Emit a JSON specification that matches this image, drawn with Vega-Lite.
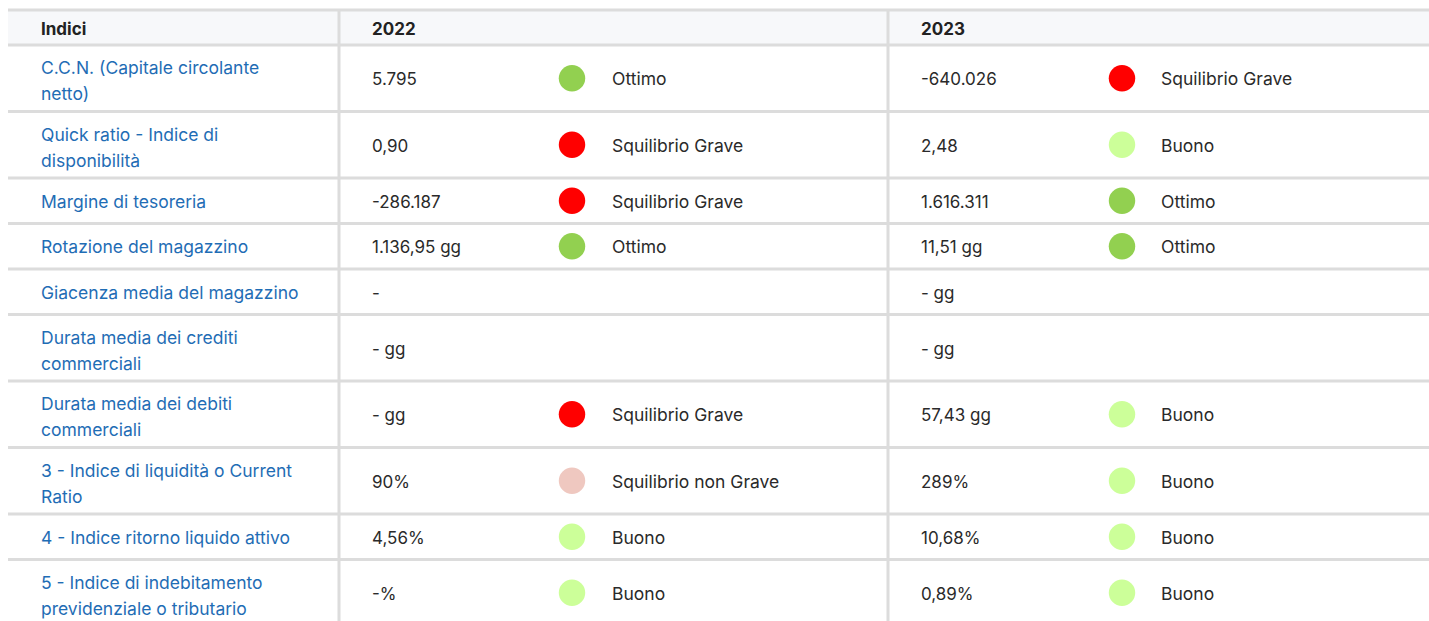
{
  "$schema": "https://vega.github.io/schema/vega-lite/v6.json",
  "width": 1429,
  "height": 621,
  "padding": 0,
  "autosize": {"type": "none"},
  "background": "#ffffff",
  "config": {
    "view": {"stroke": null},
    "axis": {"disable": true},
    "text": {"font": "Inter", "fontSize": 17, "align": "left", "baseline": "middle", "color": "#2a2a2a", "dy": 2}
  },
  "datasets": {
    "header": [
      {"col": "Indici", "label": "Indici"},
      {"col": "2022", "label": "2022"},
      {"col": "2023", "label": "2023"}
    ],
    "rows": [
      {"indice": ["C.C.N. (Capitale circolante", "netto)"], "v2022": "5.795", "s2022": "Ottimo", "v2023": "-640.026", "s2023": "Squilibrio Grave"},
      {"indice": ["Quick ratio - Indice di", "disponibilità"], "v2022": "0,90", "s2022": "Squilibrio Grave", "v2023": "2,48", "s2023": "Buono"},
      {"indice": ["Margine di tesoreria"], "v2022": "-286.187", "s2022": "Squilibrio Grave", "v2023": "1.616.311", "s2023": "Ottimo"},
      {"indice": ["Rotazione del magazzino"], "v2022": "1.136,95 gg", "s2022": "Ottimo", "v2023": "11,51 gg", "s2023": "Ottimo"},
      {"indice": ["Giacenza media del magazzino"], "v2022": "-", "s2022": null, "v2023": "- gg", "s2023": null},
      {"indice": ["Durata media dei crediti", "commerciali"], "v2022": "- gg", "s2022": null, "v2023": "- gg", "s2023": null},
      {"indice": ["Durata media dei debiti", "commerciali"], "v2022": "- gg", "s2022": "Squilibrio Grave", "v2023": "57,43 gg", "s2023": "Buono"},
      {"indice": ["3 - Indice di liquidità o Current", "Ratio"], "v2022": "90%", "s2022": "Squilibrio non Grave", "v2023": "289%", "s2023": "Buono"},
      {"indice": ["4 - Indice ritorno liquido attivo"], "v2022": "4,56%", "s2022": "Buono", "v2023": "10,68%", "s2023": "Buono"},
      {"indice": ["5 - Indice di indebitamento", "previdenziale o tributario"], "v2022": "-%", "s2022": "Buono", "v2023": "0,89%", "s2023": "Buono"}
    ]
  },
  "resolve": {"scale": {"x": "shared", "y": "shared"}},
  "layer": [
    {
      "data": {"name": "header"},
      "transform": [{"filter": "datum.col === 'Indici'"}],
      "mark": {"type": "rect", "fill": "#f7f8fa"},
      "encoding": {
        "x": {"datum": 8, "type": "quantitative", "scale": {"domain": [0, 1429], "nice": false, "zero": false}},
        "x2": {"datum": 1429},
        "y": {"datum": 10, "type": "quantitative", "scale": {"domain": [0, 621], "nice": false, "zero": false, "reverse": true}},
        "y2": {"datum": 45}
      }
    },
    {
      "data": {"name": "header"},
      "transform": [{"filter": "datum.col === 'Indici'"}],
      "mark": {"type": "rule", "stroke": "#dcdcdc", "strokeWidth": 3},
      "encoding": {"x": {"datum": 8, "type": "quantitative"}, "x2": {"datum": 1429}, "y": {"datum": 10, "type": "quantitative"}}
    },
    {
      "data": {"name": "header"},
      "transform": [{"filter": "datum.col === 'Indici'"}],
      "mark": {"type": "rule", "stroke": "#dcdcdc", "strokeWidth": 3},
      "encoding": {"x": {"datum": 8, "type": "quantitative"}, "x2": {"datum": 1429}, "y": {"datum": 45, "type": "quantitative"}}
    },
    {
      "data": {"name": "header"},
      "transform": [{"filter": "datum.col !== 'Indici'"}, {"calculate": "datum.col === '2022' ? 339 : 888", "as": "sep"}],
      "mark": {"type": "rule", "stroke": "#dcdcdc", "strokeWidth": 3},
      "encoding": {"x": {"field": "sep", "type": "quantitative"}, "y": {"datum": 10, "type": "quantitative"}, "y2": {"datum": 630}}
    },
    {
      "data": {"name": "rows"},
      "transform": [
        {"calculate": "length(datum.indice)", "as": "nl"},
        {"calculate": "24.5 + 21 * datum.nl", "as": "h"},
        {"window": [{"op": "sum", "field": "h", "as": "cum"}], "frame": [null, 0]},
        {"calculate": "45 + datum.cum", "as": "y1"},
        {"calculate": "datum.y1 - datum.h / 2", "as": "ym"},
        {"calculate": "datum.ym - (datum.nl - 1) * 11", "as": "ly"}
      ],
      "layer": [
        {
          "mark": {"type": "rule", "stroke": "#dcdcdc", "strokeWidth": 3},
          "encoding": {"x": {"datum": 8, "type": "quantitative"}, "x2": {"datum": 1429}, "y": {"field": "y1", "type": "quantitative"}}
        },
        {
          "mark": {"type": "text", "color": "#1f6db5", "lineHeight": 26, "fontSize": 17.5},
          "encoding": {"x": {"datum": 41, "type": "quantitative"}, "y": {"field": "ly", "type": "quantitative"}, "text": {"field": "indice"}}
        },
        {
          "mark": {"type": "text"},
          "encoding": {"x": {"datum": 372, "type": "quantitative"}, "y": {"field": "ym", "type": "quantitative"}, "text": {"field": "v2022"}}
        },
        {
          "transform": [{"filter": "datum.s2022 != null"}],
          "mark": {"type": "point", "shape": "circle", "filled": true, "opacity": 1, "size": 700},
          "encoding": {
            "x": {"datum": 572, "type": "quantitative"},
            "y": {"field": "ym", "type": "quantitative"},
            "color": {"field": "s2022", "type": "nominal", "legend": null, "scale": {"domain": ["Ottimo", "Buono", "Squilibrio non Grave", "Squilibrio Grave"], "range": ["#92d050", "#ccff99", "#efc8c0", "#ff0000"]}}
          }
        },
        {
          "transform": [{"filter": "datum.s2022 != null"}],
          "mark": {"type": "text", "fontSize": 17.5},
          "encoding": {"x": {"datum": 612, "type": "quantitative"}, "y": {"field": "ym", "type": "quantitative"}, "text": {"field": "s2022"}}
        },
        {
          "mark": {"type": "text"},
          "encoding": {"x": {"datum": 921, "type": "quantitative"}, "y": {"field": "ym", "type": "quantitative"}, "text": {"field": "v2023"}}
        },
        {
          "transform": [{"filter": "datum.s2023 != null"}],
          "mark": {"type": "point", "shape": "circle", "filled": true, "opacity": 1, "size": 700},
          "encoding": {
            "x": {"datum": 1122, "type": "quantitative"},
            "y": {"field": "ym", "type": "quantitative"},
            "color": {"field": "s2023", "type": "nominal", "legend": null, "scale": {"domain": ["Ottimo", "Buono", "Squilibrio non Grave", "Squilibrio Grave"], "range": ["#92d050", "#ccff99", "#efc8c0", "#ff0000"]}}
          }
        },
        {
          "transform": [{"filter": "datum.s2023 != null"}],
          "mark": {"type": "text", "fontSize": 17.5},
          "encoding": {"x": {"datum": 1161, "type": "quantitative"}, "y": {"field": "ym", "type": "quantitative"}, "text": {"field": "s2023"}}
        }
      ]
    },
    {
      "data": {"name": "header"},
      "transform": [{"calculate": "datum.col === 'Indici' ? 41 : (datum.col === '2022' ? 372 : 921)", "as": "cx"}],
      "mark": {"type": "text", "fontWeight": "bold", "color": "#222222"},
      "encoding": {"x": {"field": "cx", "type": "quantitative"}, "y": {"datum": 28, "type": "quantitative"}, "text": {"field": "label"}}
    }
  ]
}
